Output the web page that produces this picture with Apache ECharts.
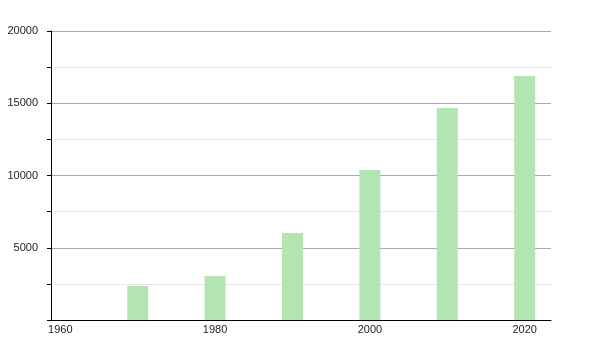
<!DOCTYPE html>
<html><head><meta charset="utf-8">
<script src="https://cdn.jsdelivr.net/npm/echarts@6/dist/echarts.min.js"></script>
<style>html,body{margin:0;padding:0;background:#fff}#c{width:600px;height:350px}</style>
</head><body><div id="c"></div>
<script>
const years = [1970, 1980, 1990, 2000, 2010, 2020];
const values = [2350, 3050, 6020, 10380, 14670, 16885];
const xLabels = [1960, 1980, 2000, 2020];
const yMax = 20000;

const chart = echarts.init(document.getElementById('c'), null, {renderer: 'canvas'});
chart.setOption({
  animation: false,
  grid: {left: 51, right: 49, top: 31, bottom: 30, containLabel: false},
  xAxis: {
    type: 'value', min: 1958.8, max: 2023.4,
    axisLine: {show: true, lineStyle: {color: '#000', width: 1}},
    axisTick: {show: false},
    splitLine: {show: false},
    axisLabel: {customValues: xLabels, color: '#222', fontSize: 11, fontFamily: 'Liberation Sans, Arial', margin: 4,
      formatter: v => String(Math.round(v))}
  },
  yAxis: {
    type: 'value', min: 0, max: yMax, interval: 2500,
    axisLine: {show: true, lineStyle: {color: '#000', width: 1}},
    axisTick: {show: true, length: 4, lineStyle: {color: '#000'}},
    axisLabel: {color: '#222', fontSize: 11, fontFamily: 'Liberation Sans, Arial', margin: 13,
      formatter: v => (v % 5000 === 0 && v !== 0) ? String(v) : ''},
    splitLine: {show: true, lineStyle: {color: ['#aaaaaa', '#e6e6e6'], width: 1}}
  },
  series: [{
    type: 'bar',
    data: years.map((y, i) => [y, values[i]]),
    barWidth: 21,
    itemStyle: {color: '#b2e5b2'}
  }]
});
</script></body></html>
